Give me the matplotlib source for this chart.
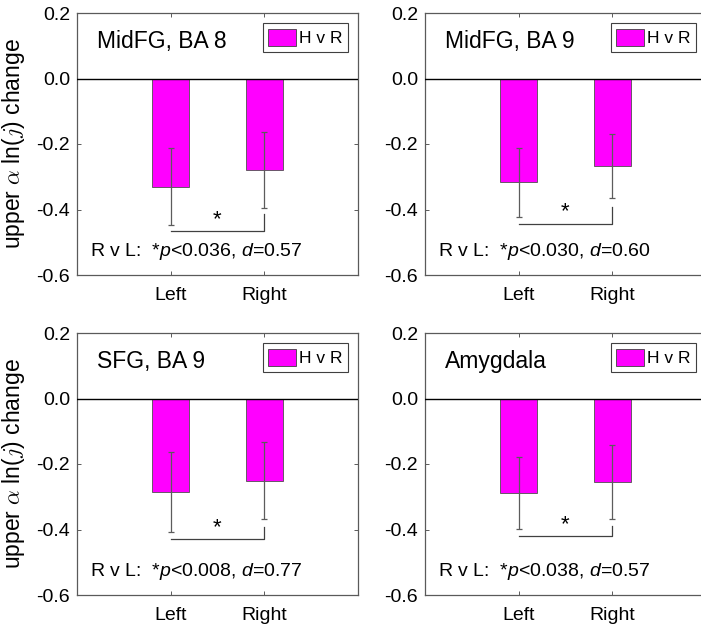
import matplotlib
matplotlib.use("Agg")
import matplotlib.pyplot as plt
from matplotlib.patches import Patch

plt.rcParams['font.family'] = ['Liberation Sans', 'DejaVu Sans']
plt.rcParams['mathtext.fontset'] = 'custom'
plt.rcParams['mathtext.rm'] = 'Liberation Sans'
plt.rcParams['mathtext.it'] = 'Liberation Sans:italic'
plt.rcParams['axes.unicode_minus'] = False

# data
regions = ['MidFG, BA 8', 'MidFG, BA 9', 'SFG, BA 9', 'Amygdala']
categories = ['Left', 'Right']
left_mean = [-0.330, -0.317, -0.285, -0.289]
right_mean = [-0.279, -0.268, -0.251, -0.254]
left_err = [0.118, 0.105, 0.122, 0.110]
right_err = [0.115, 0.098, 0.117, 0.113]
p_vals = ['0.036', '0.030', '0.008', '0.038']
d_vals = ['0.57', '0.60', '0.77', '0.57']
bracket_y = [-0.467, -0.443, -0.430, -0.421]
bracket_top = [-0.414, -0.391, -0.393, -0.390]

magenta = '#ff00ff'
spine_col = '#5a5a5a'

fig = plt.figure(figsize=(7.01, 6.26), dpi=100)
W, H = 701, 626
# axes boxes in pixels: left, top(0.2), width, height
boxes = [(77, 13), (425, 13), (77, 333), (425, 333)]
aw, ah = 281, 262

for i, (px, py) in enumerate(boxes):
    ax = fig.add_axes([px / W, 1 - (py + ah) / H, aw / W, ah / H])
    x = [1, 2]
    means = [left_mean[i], right_mean[i]]
    errs = [left_err[i], right_err[i]]
    ax.bar(x, means, width=0.4, color=magenta, edgecolor='#505050', linewidth=0.6, zorder=2)
    ax.errorbar(x, means, yerr=errs, fmt='none', ecolor='#5c5c5c',
                elinewidth=0.9, capsize=2.5, capthick=0.9, zorder=3)
    ax.axhline(0, color='black', linewidth=1.0, zorder=4)

    # significance bracket
    ax.plot([1, 2, 2], [bracket_y[i], bracket_y[i], bracket_top[i]],
            color='#404040', linewidth=0.9, zorder=3)
    ax.text(1.5, bracket_y[i] + 0.004, '*', ha='center', va='bottom', fontsize=16)

    ax.text(0.14, -0.527, 'R v L:  *$p$<' + p_vals[i] + ', $d$=' + d_vals[i],
            fontsize=14, va='center', ha='left')
    ax.text(0.21, 0.112, regions[i], fontsize=16.5, va='center', ha='left')

    ax.set_xlim(0, 3)
    ax.set_ylim(-0.6, 0.2)
    ax.set_xticks(x)
    ax.set_xticklabels(categories)
    ax.set_yticks([-0.6, -0.4, -0.2, 0.0, 0.2])
    ax.set_yticklabels(['%.1f' % v for v in [-0.6, -0.4, -0.2, 0.0, 0.2]])
    ax.tick_params(direction='in', top=True, right=True, labelsize=14,
                   length=3, width=0.7, color=spine_col)
    ax.tick_params(axis='x', pad=9)
    ax.tick_params(axis='y', pad=5)
    for s in ax.spines.values():
        s.set_color(spine_col)
        s.set_linewidth(0.9)

    leg = ax.legend(handles=[Patch(facecolor=magenta, edgecolor='#404040', linewidth=0.6, label='H v R')],
                    loc='upper right', fontsize=12.5, handlelength=1.6, handleheight=1.2,
                    handletextpad=0.15, borderpad=0.3, borderaxespad=0.6,
                    fancybox=False, framealpha=1)
    leg.get_frame().set_edgecolor('#404040')
    leg.get_frame().set_linewidth(0.8)

    if i % 2 == 0:
        ax.set_ylabel('upper $\\alpha$ ln($j$) change', fontsize=16.5, labelpad=7,
                      math_fontfamily='cm')

fig.savefig('out.png', dpi=100)
